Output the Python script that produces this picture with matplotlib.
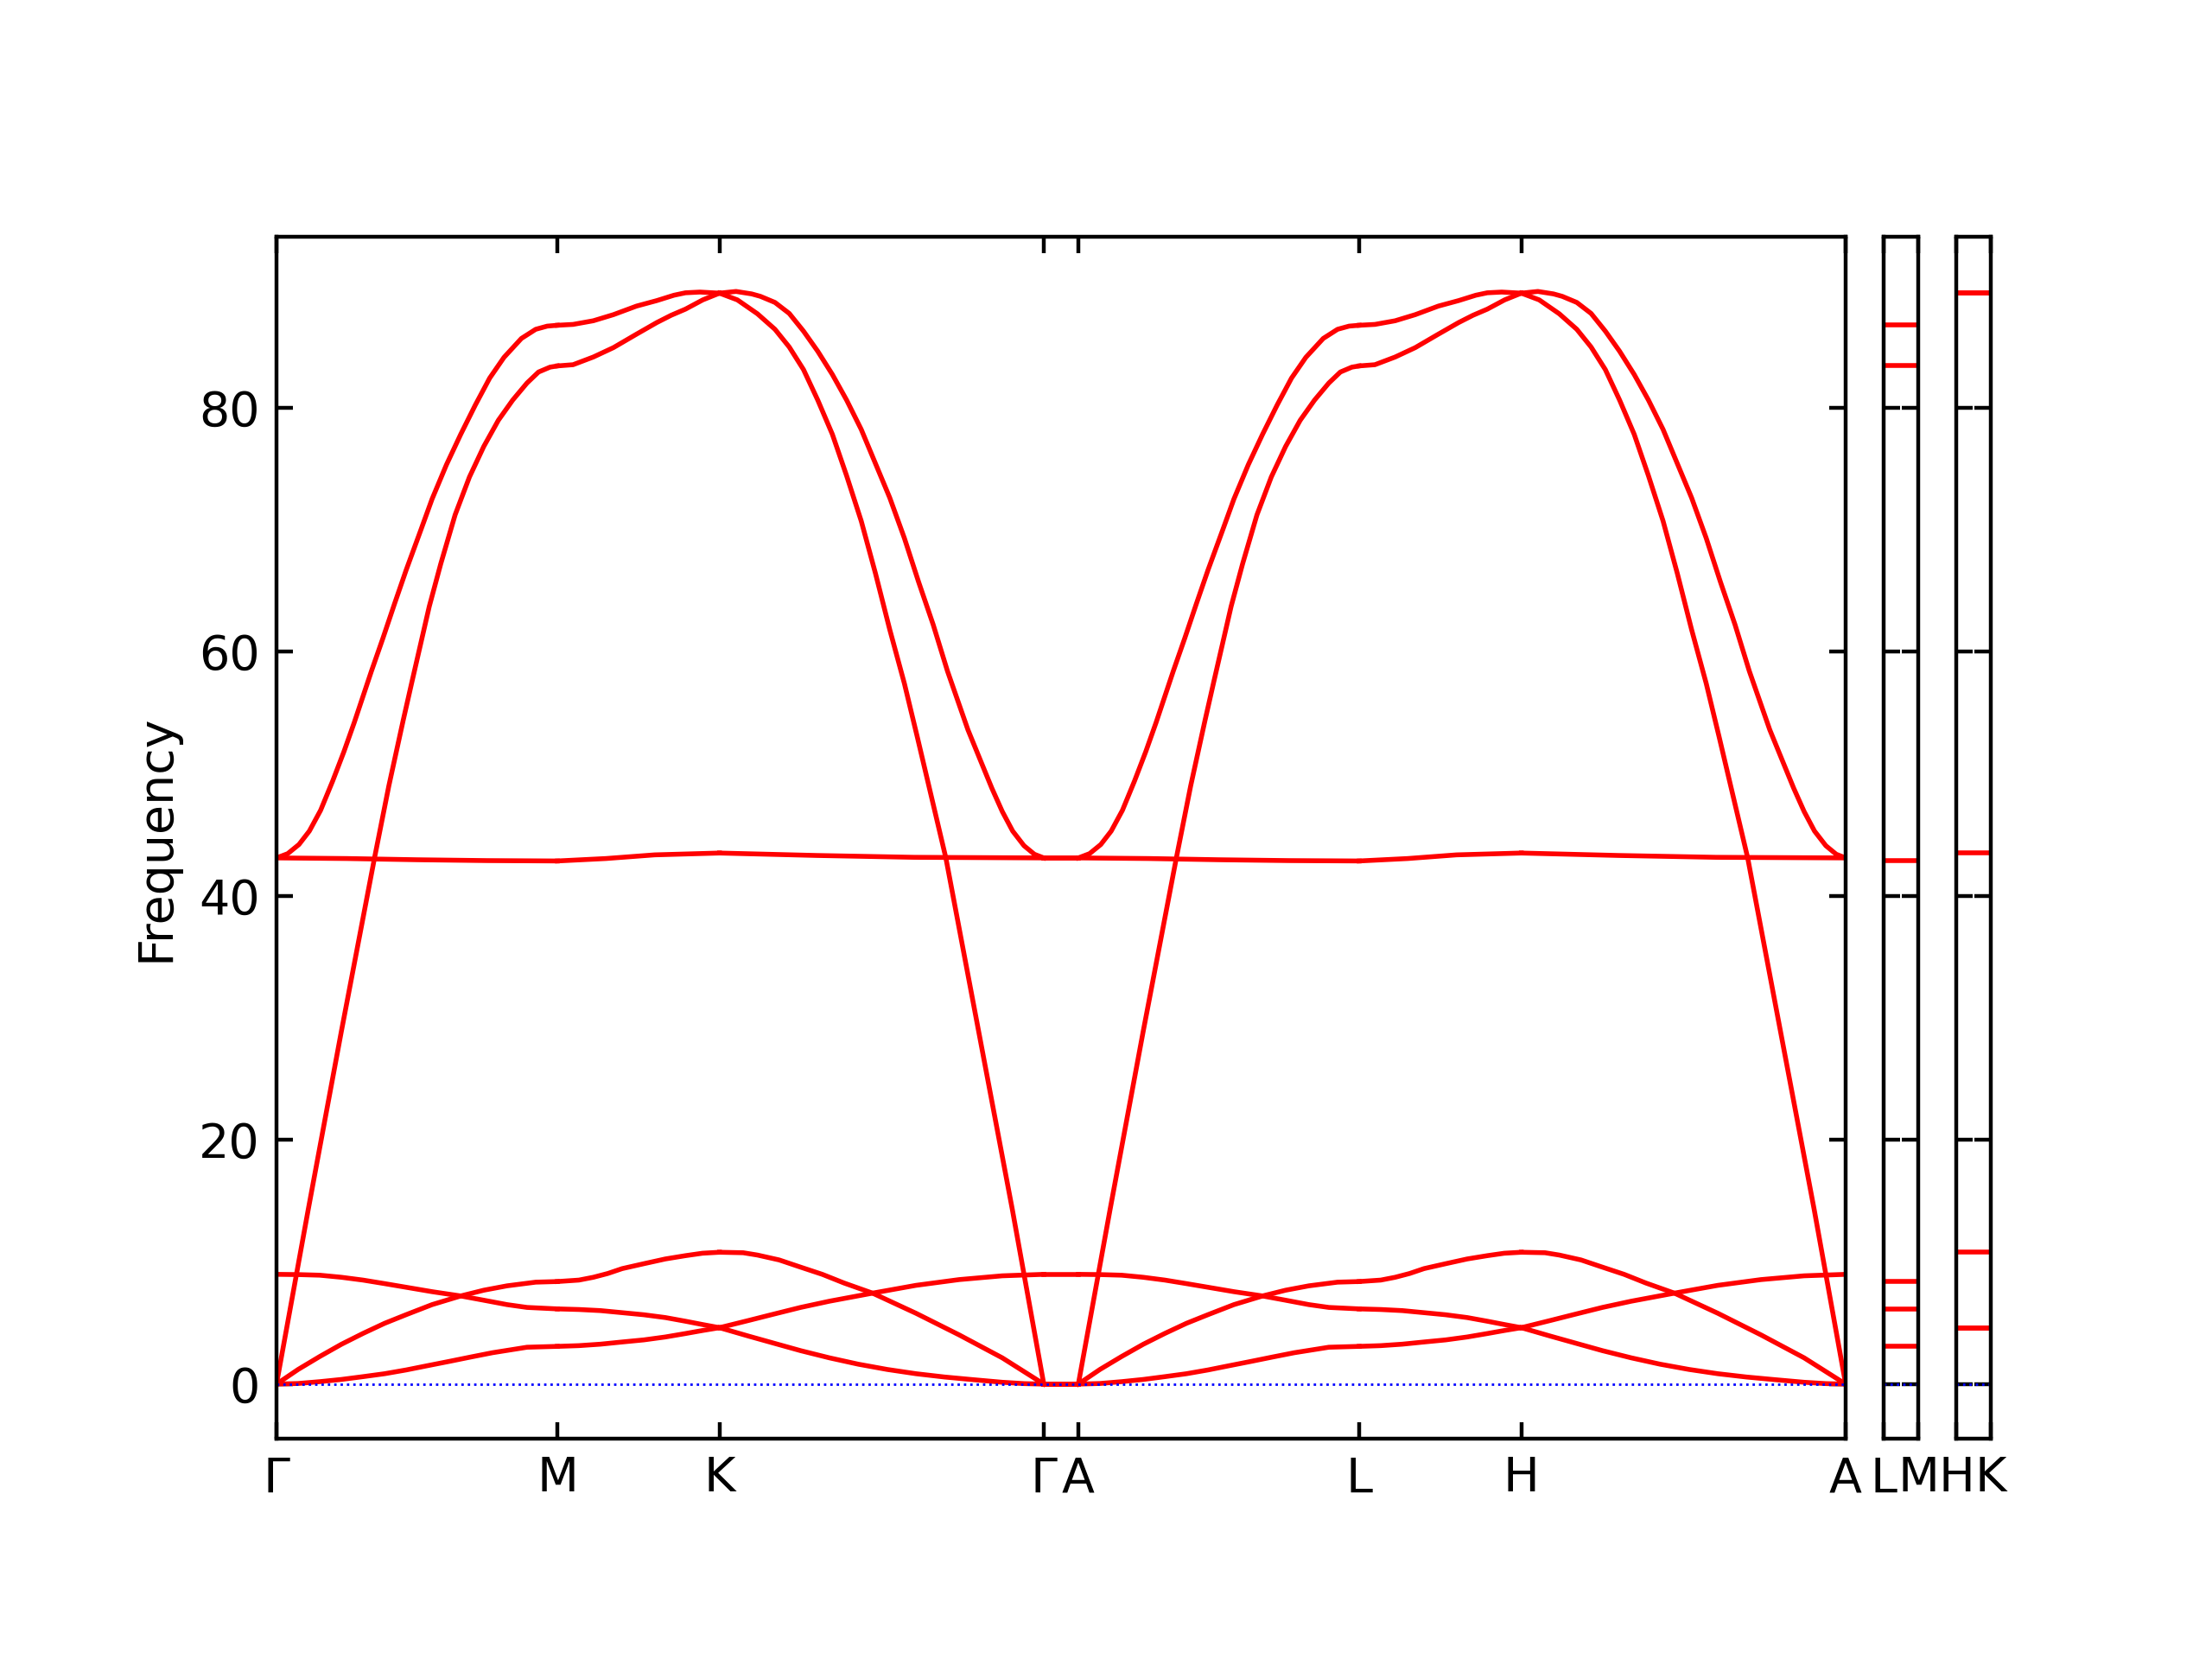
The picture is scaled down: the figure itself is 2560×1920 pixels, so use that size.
import matplotlib
matplotlib.use("Agg")
import matplotlib.pyplot as plt
import numpy as np

# segment lengths along the path (Gamma-M = 1)
len_GM = 1.0
len_MK = 0.5774
len_KG = 1.1547
len_GA = 0.123
len_LM = 0.123
len_HK = 0.123

# Gamma -> M : (fraction along segment, frequency)
gm_za = ([0, .077, .154, .231, .308, .385, .462, .538, .615, .692, .769, .892, 1.0],
         [0, 0.05, 0.20, 0.38, 0.61, 0.85, 1.16, 1.51, 1.86, 2.22, 2.57, 3.02, 3.09])
gm_ta = ([0, .077, .154, .231, .308, .385, .462, .554, .656, .738, .821, .923, 1.0],
         [0, 1.20, 2.26, 3.26, 4.15, 4.98, 5.69, 6.51, 7.22, 7.69, 8.05, 8.35, 8.40])
gm_to = ([0, .077, .154, .231, .308, .385, .462, .554, .656, .738, .821, .892, 1.0],
         [8.99, 8.97, 8.92, 8.75, 8.52, 8.23, 7.93, 7.57, 7.22, 6.87, 6.51, 6.28, 6.16])
gm_flat = ([0, .25, .5, .75, 1.0],
           [43.1, 43.05, 42.95, 42.88, 42.85])
gm_la = ([0, .113, .231, .349, .400, .451, .482, .513, .544, .585, .636, .687, .738, .790,
          .841, .892, .933, .974, 1.0],
         [0, 14.3, 28.9, 43.1, 49.0, 54.36, 57.5, 60.6, 63.7, 67.2, 71.2, 74.3, 76.8, 78.95,
          80.6, 82.0, 82.9, 83.3, 83.4])
gm_lo = ([0, .040, .080, .117, .157, .200, .240, .277, .338, .379, .420, .462, .513, .554,
          .605, .656, .708, .759, .810, .872, .923, .964, 1.0],
         [43.1, 43.45, 44.2, 45.3, 47.0, 49.4, 51.8, 54.2, 58.4, 61.1, 63.9, 66.7, 69.9, 72.5,
          75.3, 77.8, 80.2, 82.4, 84.1, 85.65, 86.4, 86.66, 86.73])

# M -> K
mk_za = ([0, .133, .266, .400, .533, .666, .790, .895, 1.0],
         [3.09, 3.15, 3.27, 3.45, 3.62, 3.86, 4.14, 4.39, 4.62])
mk_to = ([0, .133, .266, .400, .533, .666, .790, .895, 1.0],
         [6.16, 6.11, 6.02, 5.85, 5.68, 5.45, 5.15, 4.88, 4.62])
mk_ta = ([0, .133, .222, .311, .400, .533, .666, .790, .895, 1.0],
         [8.40, 8.52, 8.75, 9.06, 9.46, 9.86, 10.25, 10.52, 10.72, 10.80])
mk_flat = ([0, .3, .6, 1.0],
           [42.85, 43.05, 43.35, 43.5])
mk_la = ([0, .097, .222, .346, .488, .613, .702, .790, .897, 1.0],
         [83.4, 83.5, 84.13, 84.9, 86.0, 86.95, 87.55, 88.05, 88.81, 89.36])
mk_lo = ([0, .097, .222, .346, .488, .613, .719, .790, .879, 1.0],
         [86.73, 86.8, 87.1, 87.6, 88.3, 88.75, 89.19, 89.39, 89.45, 89.36])

# K -> Gamma
kg_za = ([0, .091, .161, .250, .339, .428, .517, .606, .694, .783, .872, .939, 1.0],
         [4.62, 3.92, 3.40, 2.74, 2.15, 1.63, 1.20, 0.85, 0.58, 0.36, 0.15, 0.04, 0])
kg_to = ([0, .091, .161, .250, .339, .472, .606, .739, .872, 1.0],
         [4.62, 5.22, 5.69, 6.28, 6.79, 7.45, 8.09, 8.56, 8.87, 8.99])
kg_ta = ([0, .073, .117, .184, .250, .317, .384, .472, .606, .739, .872, 1.0],
         [10.80, 10.76, 10.57, 10.17, 9.58, 8.99, 8.28, 7.45, 5.80, 4.03, 2.15, 0])
kg_flat = ([0, .3, .6, 1.0],
           [43.5, 43.3, 43.15, 43.1])
kg_la = ([0, .055, .117, .171, .215, .259, .303, .348, .392, .437, .481, .525, .570, .610,
          .698, .903, 1.0],
         [89.36, 88.81, 87.67, 86.4, 84.95, 83.1, 80.6, 77.8, 74.4, 70.7, 66.4, 61.8, 57.4, 53.0,
          43.1, 14.3, 0])
kg_lo = ([0, .051, .099, .126, .171, .215, .259, .303, .348, .392, .437, .481, .525, .570,
          .614, .659, .703, .766, .806, .840, .872, .904, .939, .971, 1.0],
         [89.36, 89.5, 89.3, 89.1, 88.6, 87.7, 86.25, 84.6, 82.7, 80.6, 78.2, 75.4, 72.6, 69.3,
          65.7, 62.2, 58.4, 53.6, 51.0, 48.8, 46.9, 45.3, 44.1, 43.4, 43.1])

# Gamma -> A (dispersionless)
ga_freqs = [0, 0, 0, 8.99, 43.1, 43.1]
# L -> M and H -> K panels
lm_freqs = [3.09, 6.16, 8.40, 42.85, 83.4, 86.73]
hk_freqs = [4.62, 4.62, 10.80, 43.5, 89.36, 89.36]

gm_bands = [gm_za, gm_ta, gm_to, gm_flat, gm_la, gm_lo]
mk_bands = [mk_za, mk_to, mk_ta, mk_flat, mk_la, mk_lo]
kg_bands = [kg_za, kg_to, kg_ta, kg_flat, kg_la, kg_lo]
ga_bands = [([0, 1], [f, f]) for f in ga_freqs]

# A-L-H-A repeats Gamma-M-K-Gamma
path = [(len_GM, gm_bands), (len_MK, mk_bands), (len_KG, kg_bands),
        (len_GA, ga_bands),
        (len_GM, gm_bands), (len_MK, mk_bands), (len_KG, kg_bands)]
labels = ["Γ", "M", "K", "Γ", "A", "L", "H", "A"]

ymin, ymax = -4.47, 93.98

fig = plt.figure(figsize=(6.4, 4.8), dpi=400)
ax = fig.add_axes([0.125, 0.13281, 0.709375, 0.72448])
ax2 = fig.add_axes([0.851563, 0.13281, 0.015625, 0.72448])
ax3 = fig.add_axes([0.884375, 0.13281, 0.015625, 0.72448])

start = 0.0
ticks = [0.0]
for length, bands in path:
    for frac, freq in bands:
        ax.plot(start + np.array(frac) * length, freq, "r-", linewidth=1,
                solid_joinstyle="round")
    start += length
    ticks.append(start)

ax.axhline(y=0, linestyle=":", linewidth=0.5, color="b")
ax.set_xlim(0, start)
ax.set_ylim(ymin, ymax)
ax.set_xticks(ticks)
ax.set_xticklabels(labels)
ax.set_yticks([0, 20, 40, 60, 80])
ax.set_ylabel("Frequency")

for a, length, freqs, lab in [(ax2, len_LM, lm_freqs, ["L", "M"]),
                              (ax3, len_HK, hk_freqs, ["H", "K"])]:
    for f in freqs:
        a.plot([0, length], [f, f], "r-", linewidth=1)
    a.axhline(y=0, linestyle=":", linewidth=0.5, color="b")
    a.set_xlim(0, length)
    a.set_ylim(ymin, ymax)
    a.set_xticks([0, length])
    a.set_xticklabels(lab)
    a.set_yticks([0, 20, 40, 60, 80])
    a.set_yticklabels([])

for a in (ax, ax2, ax3):
    a.tick_params(axis="both", which="both", direction="in", top=True, right=True)

fig.savefig("out.png", dpi=400)
